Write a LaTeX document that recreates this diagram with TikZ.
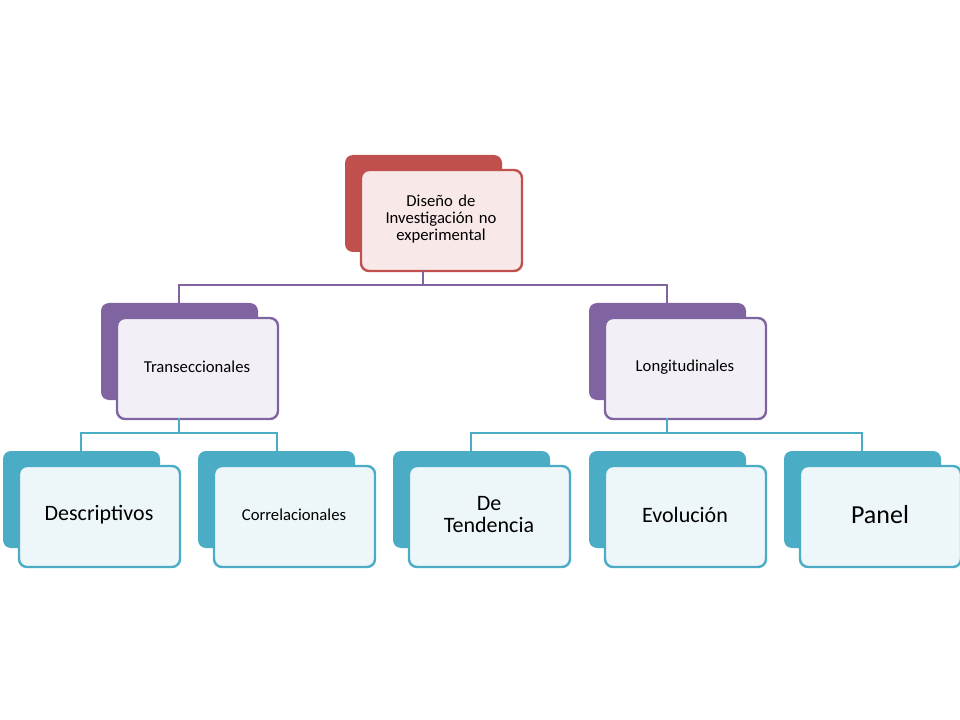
\documentclass[tikz,border=0pt]{standalone}
\usepackage{fontspec}
\setmainfont{Carlito}
\definecolor{cred}{HTML}{C0504D}
\definecolor{cpur}{HTML}{8064A2}
\definecolor{ccy}{HTML}{4BACC6}
\definecolor{fred}{HTML}{F9E8E8}
\definecolor{fpur}{HTML}{F2F0F6}
\definecolor{fcy}{HTML}{EDF6F9}
\tikzset{
 back/.style={rounded corners=6pt},
 front/.style={rounded corners=6pt, line width=1.8pt},
 lab/.style={align=center, text=black},
 conn/.style={line width=1.8pt}
}
\begin{document}
\begin{tikzpicture}[x=0.75pt,y=-0.75pt]
\useasboundingbox (0,0) rectangle (960,720);
\newcommand{\mybox}[8]{% x y back colour front fill name text size
  \fill[back,#3] (#1,#2) rectangle ++(157,97);
  \draw[front,draw=#3,fill=#4] (#1+16,#2+15) rectangle ++(161,101);
  \node[lab,font=\fontsize{#7}{#7}\selectfont,text width=150] (#5) at (#1+96,#2+64) {#6};
}
\mybox{345}{155}{cred}{fred}{top}{Diseño de\\Investigación no\\experimental}{12.5}{}
\mybox{101}{303}{cpur}{fpur}{tr}{Transeccionales}{12.5}{}
\mybox{589}{303}{cpur}{fpur}{lo}{Longitudinales}{12.5}{}
\mybox{3}{451}{ccy}{fcy}{de}{Descriptivos}{16.5}{}
\mybox{198}{451}{ccy}{fcy}{co}{Correlacionales}{12.5}{}
\mybox{393}{451}{ccy}{fcy}{te}{De\\Tendencia}{16.5}{}
\mybox{589}{451}{ccy}{fcy}{ev}{Evolución}{16.5}{}
\mybox{784}{451}{ccy}{fcy}{pa}{Panel}{19.5}{}
\coordinate (t1) at (423,271);
\draw[conn,cpur] (t1) -- (423,285) -- (179,285) -- (179,303);
\draw[conn,cpur] (423,285) -- (667,285) -- (667,303);
\draw[conn,ccy] (179,418) -- (179,433) -- (81,433) -- (81,451);
\draw[conn,ccy] (179,433) -- (277,433) -- (277,451);
\draw[conn,ccy] (667,418) -- (667,433) -- (471,433) -- (471,451);
\draw[conn,ccy] (667,433) -- (862,433) -- (862,451);
\end{tikzpicture}
\end{document}
